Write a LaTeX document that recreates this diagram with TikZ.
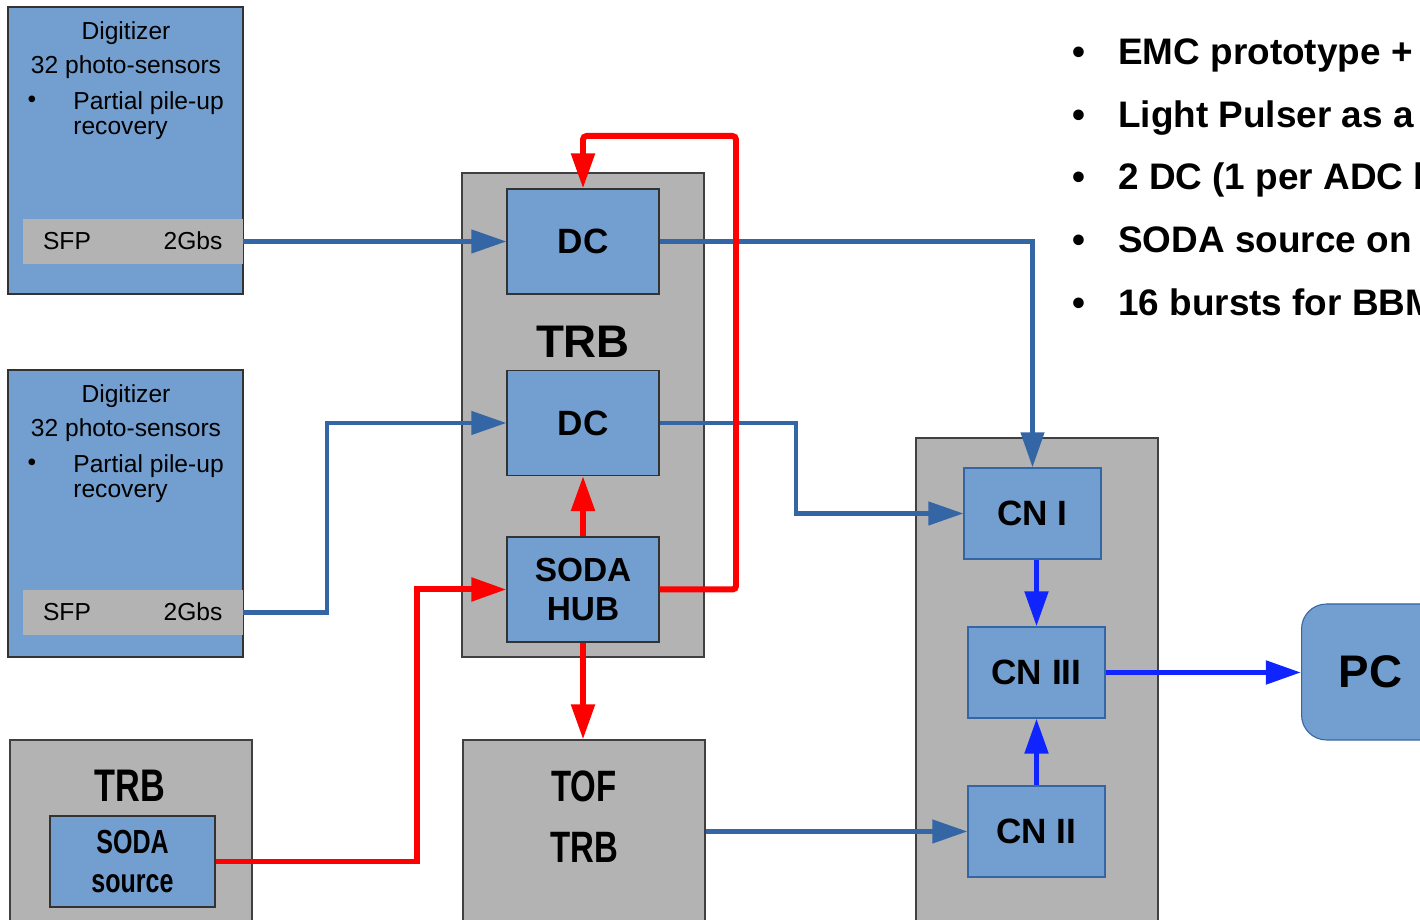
\documentclass[tikz,border=0pt]{standalone}
\usepackage{fontspec}
\setmainfont{Liberation Sans}
\newfontfamily\narrowsf{Liberation Sans}[FakeStretch=0.75]
\usetikzlibrary{arrows.meta,calc}
\definecolor{boxblue}{HTML}{729FCF}
\definecolor{boxgray}{HTML}{B3B3B3}
\definecolor{linkblue}{HTML}{3465A4}
\definecolor{cnblue}{RGB}{16,36,255}

\begin{document}
\begin{tikzpicture}[>={Triangle[length=20pt,width=13pt]},
	blkbox/.style={draw=black!80, fill=boxblue, line width=0.6pt, inner sep=0pt},
	grayframe/.style={draw=black!75, fill=boxgray, line width=0.6pt, inner sep=0pt},
	dcbox/.style={blkbox, minimum width=3.04cm, minimum height=2.10cm, font=\bfseries\fontsize{20}{24}\selectfont},
	cnbox/.style={blkbox, draw=linkblue, minimum width=2.74cm, minimum height=1.82cm, font=\bfseries\fontsize{20}{24}\selectfont},
	lab/.style={inner sep=0pt, font=\fontsize{14}{16}\selectfont},
	narrow/.style={inner sep=0pt, align=center, font=\narrowsf\bfseries\fontsize{26}{35}\selectfont},
	link/.style={->, linkblue, line width=2.8pt},
	cnlink/.style={->, cnblue, line width=3.2pt},
	sync/.style={->, red, line width=3.4pt}]
	\useasboundingbox (0,0) rectangle (28.4,18.4);
	\clip (0,0) rectangle (28.4,18.4);
	\foreach \dy/\sy/\n in {0/0/1, 7.26/7.42/2} {
		\node[blkbox, minimum width=4.70cm, minimum height=5.74cm] (dig\n) at (2.51,15.39-\dy) {};
		\node[lab] at (2.52,17.74-\dy) {Digitizer};
		\node[lab] at (2.52,17.06-\dy) {32 photo-sensors};
		\node[lab] at (0.64,16.36-\dy) {•};
		\node[lab, anchor=west] at (1.46,16.34-\dy) {Partial pile-up};
		\node[lab, anchor=west] at (1.46,15.80-\dy) {recovery};
		\node[fill=boxgray, minimum width=4.40cm, minimum height=0.90cm, inner sep=0pt] (sfp\n) at (2.66,13.57-\sy) {};
		\node[lab] at (1.34,13.58-\sy) {SFP};
		\node[lab] at (3.86,13.58-\sy) {2Gbs};
	}
	\node[grayframe, minimum width=4.84cm, minimum height=9.68cm] (trb) at (11.66,10.10) {};
	\node[dcbox] (dc1) at (11.66,13.57) {DC};
	\node[inner sep=0pt, font=\bfseries\fontsize{26}{30}\selectfont] (trblab) at (11.66,11.56) {TRB};
	\node[dcbox] (dc2) at (11.66,9.94) {DC};
	\node[dcbox, align=center, font=\bfseries\fontsize{19}{22}\selectfont] (hub) at (11.66,6.61) {SODA\\HUB};
	\node[grayframe, minimum width=4.84cm, minimum height=4.6cm] (srctrb) at (2.62,1.30) {};
	\node[narrow] (srclab) at (2.60,2.68) {TRB};
	\node[blkbox, align=center, minimum width=3.30cm, minimum height=1.82cm, font=\narrowsf\bfseries\fontsize{19}{22}\selectfont] (src) at (2.65,1.17) {SODA\\source};
	\node[grayframe, minimum width=4.84cm, minimum height=4.6cm] (tof) at (11.68,1.30) {};
	\node[narrow, font=\narrowsf\bfseries\fontsize{25}{34.6}\selectfont] (toflab) at (11.68,2.07) {TOF\\TRB};
	\node[grayframe, minimum width=4.84cm, minimum height=10.64cm] (cn) at (20.74,4.32) {};
	\node[cnbox] (cn1) at (20.65,8.13) {CN I};
	\node[cnbox] (cn3) at (20.73,4.95) {CN III};
	\node[cnbox] (cn2) at (20.73,1.77) {CN II};
	\node[blkbox, draw=linkblue, rounded corners=0.5cm, minimum height=2.72cm, text width=2.5cm, inner xsep=0.74cm, align=left, anchor=west, font=\bfseries\fontsize{26}{30}\selectfont] (pc) at (26.02,4.96) {PC};
	\foreach \t [count=\i] in {{EMC prototype +}, {Light Pulser as a}, {2 DC (1 per ADC b}, {SODA source on}, {16 bursts for BBM}} {
		\node[inner sep=0pt, anchor=base, font=\bfseries\fontsize{21}{24}\selectfont] (dot\i) at (21.58,18.365-1.255*\i) {•};
		\node[inner sep=0pt, anchor=base west, font=\bfseries\fontsize{21}{24}\selectfont] (item\i) at (22.36,18.365-1.255*\i) {\t};
	}
	\coordinate (bendA) at (6.54,0);
	\coordinate (bendB) at (15.92,0);
	\coordinate (bendC) at (8.34,0);
	\coordinate (loop) at (14.72,15.68);
	\draw[link] (sfp1.east) -- (dc1.west);
	\draw[link] (sfp2.east) -| (bendA |- dc2.west) -- (dc2.west);
	\draw[link] (dc1.east) -| (cn1.north);
	\draw[link] (dc2.east) -| (bendB |- cn1.west) -- (cn1.west);
	\draw[link] (cn2.west -| tof.east) -- (cn2.west);
	\draw[cnlink] (cn3.north |- cn1.south) -- (cn3.north);
	\draw[cnlink] (cn2.north) -- (cn3.south);
	\draw[cnlink] (cn3.east) -- (cn3.east -| pc.west);
	\draw[sync] (hub.north) -- (dc2.south);
	\draw[sync, rounded corners=2pt] (hub.east) -| (loop) -| (dc1.north);
	\draw[sync] (src.east) -| (bendC |- hub.west) -- (hub.west);
	\draw[sync] (hub.south) -- (hub.south |- tof.north);
\end{tikzpicture}
\end{document}
